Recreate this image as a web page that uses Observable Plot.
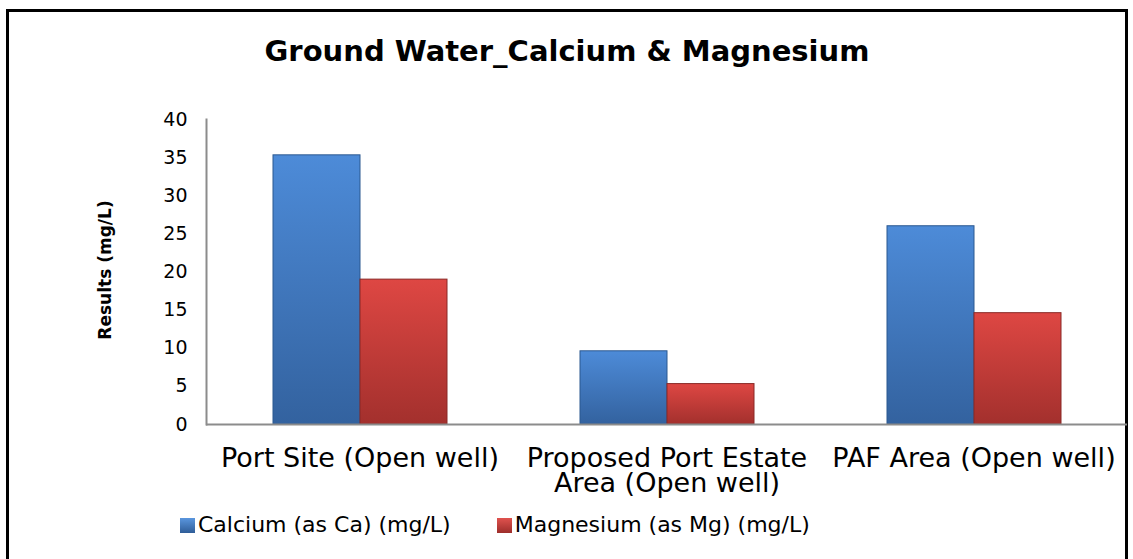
<!DOCTYPE html>
<html>
<head>
<meta charset="utf-8">
<script src="https://cdn.jsdelivr.net/npm/d3@7"></script>
<script src="https://cdn.jsdelivr.net/npm/@observablehq/plot@0.6"></script>
<style>
  html, body { margin: 0; padding: 0; background: #fff; }
  body { width: 1133px; height: 559px; overflow: hidden; position: relative; font-family: "DejaVu Sans", Verdana, sans-serif; }
  #frame { position: absolute; left: 6px; top: 9px; width: 1116px; height: 600px; border: 3px solid #000; border-bottom: none; }
  #title { position: absolute; left: 6px; width: 1122px; top: 37px; text-align: center; font-weight: bold; font-size: 29px; line-height: 29px; color: #000; }
  #ylabel { position: absolute; left: 105px; top: 270px; transform: translate(-50%, -50%) rotate(-90deg); font-weight: bold; font-size: 17px; white-space: nowrap; color: #000; }
  #chart { position: absolute; left: 0; top: 0; }
  #legend { position: absolute; top: 512px; left: 180px; font-size: 22px; line-height: 26px; color: #000; white-space: nowrap; }
  .item { display: inline-flex; align-items: center; }
  .sw { display: inline-block; width: 15px; height: 15px; margin-right: 3px; }
</style>
</head>
<body>
<svg width="0" height="0" style="position:absolute">
  <defs>
    <linearGradient id="gCa" x1="0" y1="0" x2="0" y2="1">
      <stop offset="0" stop-color="#4d8bd8"/>
      <stop offset="1" stop-color="#33629f"/>
    </linearGradient>
    <linearGradient id="gMg" x1="0" y1="0" x2="0" y2="1">
      <stop offset="0" stop-color="#de4743"/>
      <stop offset="1" stop-color="#a3302d"/>
    </linearGradient>
  </defs>
</svg>
<div id="frame"></div>
<div id="title">Ground Water_Calcium &amp; Magnesium</div>
<div id="ylabel">Results (mg/L)</div>
<div id="chart"></div>
<div id="legend"></div>
<script>
const categories = ["Port Site (Open well)", "Proposed Port Estate Area (Open well)", "PAF Area (Open well)"];
const categoryLabels = ["Port Site (Open well)", "Proposed Port Estate\nArea (Open well)", "PAF Area (Open well)"];
const series = ["Calcium (as Ca) (mg/L)", "Magnesium (as Mg) (mg/L)"];
const calcium = [35.3, 9.6, 26.0];
const magnesium = [19.0, 5.3, 14.6];
const yTicks = [0, 5, 10, 15, 20, 25, 30, 35, 40];
const seriesFills = ["url(#gCa)", "url(#gMg)"];
const seriesStrokes = ["#2b5890", "#8a2926"];
const swatchCss = ["linear-gradient(#5a96de, #2f5d98)", "linear-gradient(#e0524e, #9d2e2b)"];

const data = [];
categories.forEach((c, i) => {
  data.push({category: c, series: series[0], value: calcium[i]});
  data.push({category: c, series: series[1], value: magnesium[i]});
});
const labelOf = new Map(categories.map((c, i) => [c, categoryLabels[i]]));

const chart = Plot.plot({
  width: 1133,
  height: 500,
  marginLeft: 205,
  marginRight: 6,
  marginTop: 119,
  marginBottom: 76,
  style: {fontFamily: "DejaVu Sans, Verdana, sans-serif", fontSize: "19px", color: "#000", background: "transparent", overflow: "visible"},
  fx: {domain: categories, paddingInner: 0, paddingOuter: 0, axis: null},
  x: {domain: series, paddingInner: 0, paddingOuter: 0.75, axis: null},
  y: {domain: [0, 40], axis: null},
  color: {domain: series, range: seriesFills},
  marks: [
    Plot.barY(data, {fx: "category", x: "series", y: "value", fill: "series",
      stroke: d => seriesStrokes[series.indexOf(d.series)], strokeWidth: 1}),
    Plot.ruleY([0], {stroke: "#8c8c8c", strokeWidth: 2}),
    Plot.frame({anchor: "left", stroke: "#8c8c8c", strokeWidth: 2, facetAnchor: "left"}),
    Plot.axisY({ticks: yTicks, tickSize: 0, tickPadding: 19, fontSize: 19, label: null, tickFormat: d => String(d)}),
    Plot.axisFx({anchor: "bottom", tickSize: 0, tickPadding: 24, fontSize: 27, lineHeight: 0.95, label: null,
      tickFormat: d => labelOf.get(d)})
  ]
});
document.getElementById("chart").appendChild(chart);

const legend = document.getElementById("legend");
series.forEach((s, i) => {
  const item = document.createElement("span");
  item.className = "item";
  if (i > 0) item.style.marginLeft = "46px";
  const sw = document.createElement("span");
  sw.className = "sw";
  sw.style.background = swatchCss[i];
  item.appendChild(sw);
  item.appendChild(document.createTextNode(s));
  legend.appendChild(item);
});
</script>
</body>
</html>
